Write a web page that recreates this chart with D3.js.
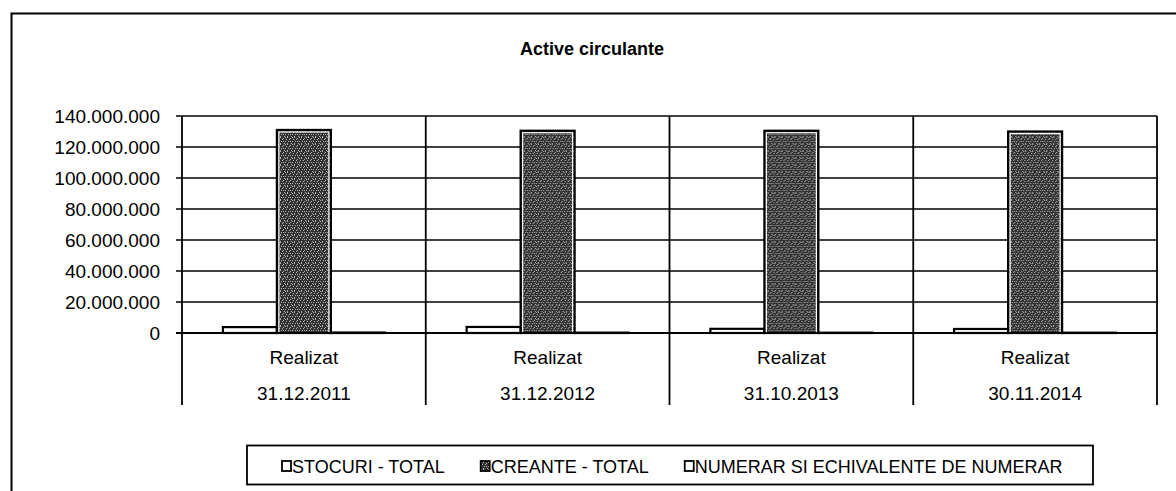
<!DOCTYPE html>
<html>
<head>
<meta charset="utf-8">
<title>Active circulante</title>
<script src="https://cdn.jsdelivr.net/npm/d3@7/dist/d3.min.js"></script>
<style>
  html, body { margin: 0; padding: 0; background: #fff; }
  svg { display: block; font-family: "Liberation Sans", Arial, sans-serif; }
</style>
</head>
<body>
<div id="chart"></div>
<script>
// data
const categories = ['31.12.2011', '31.12.2012', '31.10.2013', '30.11.2014'];
const categoryTop = 'Realizat';
const seriesNames = ['STOCURI - TOTAL', 'CREANTE - TOTAL', 'NUMERAR SI ECHIVALENTE DE NUMERAR'];
const stocuri = [3800000, 3900000, 2700000, 2600000];
const creante = [131000000, 130500000, 130500000, 130000000];
const numerar = [300000, 250000, 200000, 200000];
const yTicks = [0, 20000000, 40000000, 60000000, 80000000, 100000000, 120000000, 140000000];

const width = 1176;
const height = 491;
const margin = { top: 116, right: 19, bottom: 158, left: 182 };
const plotW = width - margin.left - margin.right;
const plotH = 333 - margin.top;

const seriesValues = [stocuri, creante, numerar];
const rows = categories.map((c, i) => ({
  cat: c,
  values: seriesNames.map((s, j) => ({ key: s, value: seriesValues[j][i] }))
}));

const svg = d3.select('#chart')
  .append('svg')
  .attr('width', width)
  .attr('height', height);

// speckled dark fill like the printed bars
const defs = svg.append('defs');
const pat = defs.append('pattern')
  .attr('id', 'speckle')
  .attr('patternUnits', 'userSpaceOnUse')
  .attr('width', 7)
  .attr('height', 7);
pat.append('rect').attr('width', 7).attr('height', 7).attr('fill', '#333');
[[0, 0], [3, 1], [5, 4], [1, 4], [4, 6], [6, 2], [2, 2], [0, 6], [5, 0], [3, 4]].forEach(d => {
  pat.append('rect').attr('x', d[0]).attr('y', d[1]).attr('width', 1).attr('height', 1).attr('fill', '#b0b0b0');
});

// outer frame (left + top only visible)
svg.append('path')
  .attr('d', `M11.5,${height} V13.5 H${width}`)
  .attr('fill', 'none')
  .attr('stroke', '#000')
  .attr('stroke-width', 2);

// title
svg.append('text')
  .attr('x', 592)
  .attr('y', 55)
  .attr('text-anchor', 'middle')
  .style('font-size', '18px')
  .style('font-weight', 'bold')
  .text('Active circulante');

const g = svg.append('g')
  .attr('transform', `translate(${margin.left},${margin.top})`);

// scales
const x0 = d3.scaleBand()
  .domain(categories)
  .range([0, plotW])
  .paddingInner(0)
  .paddingOuter(0);

const x1 = d3.scaleBand()
  .domain(seriesNames)
  .range([0, x0.bandwidth()])
  .paddingInner(0)
  .paddingOuter(0.757);

const y = d3.scaleLinear()
  .domain([0, 140000000])
  .range([plotH, 0]);

const fmt = v => d3.format(',')(v).replace(/,/g, '.');

// gridlines
g.append('g')
  .selectAll('line')
  .data(yTicks)
  .join('line')
  .attr('x1', -6)
  .attr('x2', plotW)
  .attr('y1', d => y(d))
  .attr('y2', d => y(d))
  .attr('stroke', '#000')
  .attr('stroke-width', 1.6);

// y axis labels
g.append('g')
  .selectAll('text')
  .data(yTicks)
  .join('text')
  .attr('x', -22)
  .attr('y', d => y(d) + 6.5)
  .attr('text-anchor', 'end')
  .style('font-size', '19px')
  .text(d => fmt(d));

// category dividers, running down through the label area
const edges = categories.map(c => x0(c)).concat([plotW]);
g.append('g')
  .selectAll('line')
  .data(edges)
  .join('line')
  .attr('x1', d => d)
  .attr('x2', d => d)
  .attr('y1', 0)
  .attr('y2', 289)
  .attr('stroke', '#000')
  .attr('stroke-width', 1.8);

// bars
const groups = g.append('g')
  .selectAll('g')
  .data(rows)
  .join('g')
  .attr('transform', d => `translate(${x0(d.cat)},0)`);

groups.selectAll('rect.bar')
  .data(d => d.values)
  .join('rect')
  .attr('class', 'bar')
  .attr('x', d => x1(d.key))
  .attr('y', d => y(d.value))
  .attr('width', x1.bandwidth())
  .attr('height', d => plotH - y(d.value))
  .attr('fill', d => d.key === seriesNames[1] ? 'url(#speckle)' : '#fff')
  .attr('stroke', '#000')
  .attr('stroke-width', 2.2);

// white inner rim on the dark bars
groups.selectAll('rect.rim')
  .data(d => d.values.filter(v => v.key === seriesNames[1]))
  .join('rect')
  .attr('class', 'rim')
  .attr('x', d => x1(d.key) + 2)
  .attr('y', d => y(d.value) + 2)
  .attr('width', x1.bandwidth() - 4)
  .attr('height', d => plotH - y(d.value) - 2)
  .attr('fill', 'none')
  .attr('stroke', '#fff')
  .attr('stroke-width', 1.2);

// zero line on top of bars
g.append('line')
  .attr('x1', -6)
  .attr('x2', plotW)
  .attr('y1', y(0))
  .attr('y2', y(0))
  .attr('stroke', '#000')
  .attr('stroke-width', 2.2);

// category labels (two rows)
const catLabels = g.append('g')
  .selectAll('g')
  .data(categories)
  .join('g')
  .attr('transform', d => `translate(${x0(d) + x0.bandwidth() / 2},0)`);

catLabels.append('text')
  .attr('y', 248)
  .attr('text-anchor', 'middle')
  .style('font-size', '19px')
  .text(categoryTop);

catLabels.append('text')
  .attr('y', 284)
  .attr('text-anchor', 'middle')
  .style('font-size', '19px')
  .text(d => d);

// legend
const legend = svg.append('g');
legend.append('rect')
  .attr('x', 247)
  .attr('y', 445.5)
  .attr('width', 846)
  .attr('height', 39)
  .attr('fill', '#fff')
  .attr('stroke', '#000')
  .attr('stroke-width', 1.8);

let lx = 282;
seriesNames.forEach((s, i) => {
  legend.append('rect')
    .attr('x', lx)
    .attr('y', 461)
    .attr('width', 9)
    .attr('height', 10)
    .attr('fill', i === 1 ? 'url(#speckle)' : '#fff')
    .attr('stroke', '#000')
    .attr('stroke-width', 1.8);
  const t = legend.append('text')
    .attr('x', lx + 10)
    .attr('y', 472.5)
    .style('font-size', '18px')
    .text(s);
  lx += 10 + t.node().getComputedTextLength() + 36;
});
</script>
</body>
</html>
